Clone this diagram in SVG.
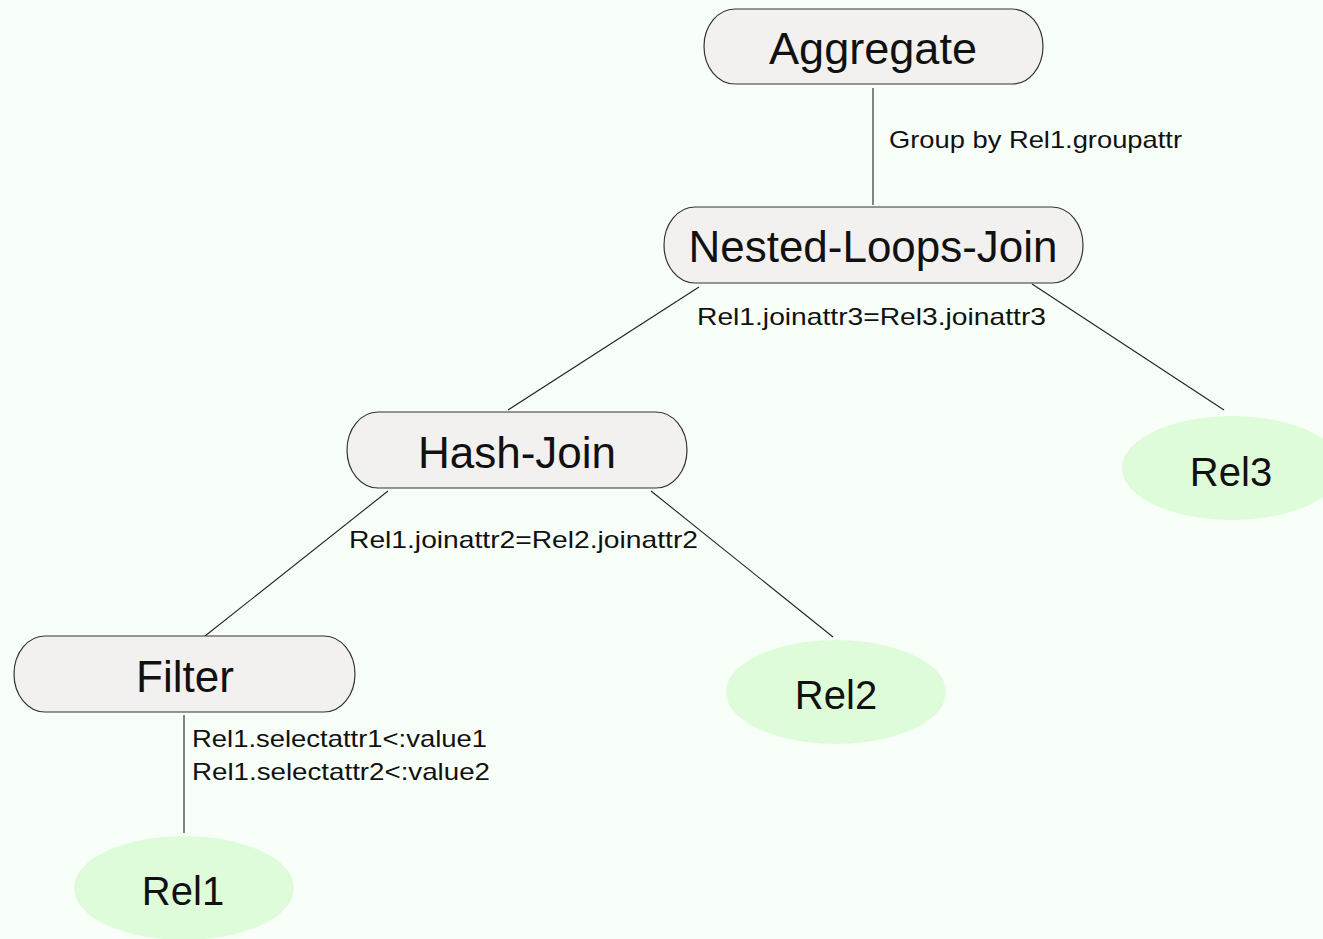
<svg xmlns="http://www.w3.org/2000/svg" width="1323" height="939" viewBox="0 0 1323 939">
  <style>
    .op rect { fill: #f2f1f0; stroke: #333333; stroke-width: 1.2; }
    .rel ellipse { fill: #dffcda; stroke: none; }
    .big { font-family: "Liberation Sans", Arial, sans-serif; font-size: 44px; fill: #111111; text-anchor: middle; }
    .relt { font-family: "Liberation Sans", Arial, sans-serif; font-size: 40px; fill: #111111; text-anchor: middle; }
    .lbl { font-family: "Liberation Sans", Arial, sans-serif; font-size: 24px; fill: #111111; }
    .edges line { stroke: #222222; stroke-width: 1.1; }
  </style>
  <rect x="0" y="0" width="1323" height="939" fill="#f8fff8"/>

  <!-- plan edges -->
  <g id="connectors" class="edges">
    <line x1="873" y1="88" x2="873" y2="205"/>
    <line x1="699" y1="287" x2="508" y2="410"/>
    <line x1="1032" y1="284" x2="1224" y2="410"/>
    <line x1="388" y1="491" x2="205" y2="636"/>
    <line x1="651" y1="491" x2="833" y2="637"/>
    <line x1="184" y1="715" x2="184" y2="833"/>
  </g>

  <!-- edge annotations -->
  <g id="edge-labels">
    <text class="lbl" x="889" y="148" textLength="293" lengthAdjust="spacingAndGlyphs">Group by Rel1.groupattr</text>
    <text class="lbl" x="697" y="325" textLength="349" lengthAdjust="spacingAndGlyphs">Rel1.joinattr3=Rel3.joinattr3</text>
    <text class="lbl" x="349" y="548" textLength="349" lengthAdjust="spacingAndGlyphs">Rel1.joinattr2=Rel2.joinattr2</text>
    <text class="lbl" x="192" y="747" textLength="295" lengthAdjust="spacingAndGlyphs">Rel1.selectattr1&lt;:value1</text>
    <text class="lbl" x="192" y="780" textLength="298" lengthAdjust="spacingAndGlyphs">Rel1.selectattr2&lt;:value2</text>
  </g>

  <!-- operators -->
  <g id="aggregate" class="op">
    <rect x="704" y="9" width="339" height="75" rx="31" ry="37.5"/>
    <text class="big" x="873" y="64" textLength="208" lengthAdjust="spacingAndGlyphs">Aggregate</text>
  </g>
  <g id="nested-loops-join" class="op">
    <rect x="664" y="207" width="419" height="76" rx="31" ry="38"/>
    <text class="big" x="873" y="262" textLength="369" lengthAdjust="spacingAndGlyphs">Nested-Loops-Join</text>
  </g>
  <g id="hash-join" class="op">
    <rect x="347" y="412" width="340" height="76" rx="31" ry="38"/>
    <text class="big" x="517" y="468" textLength="198" lengthAdjust="spacingAndGlyphs">Hash-Join</text>
  </g>
  <g id="filter" class="op">
    <rect x="14" y="636" width="341" height="76" rx="31" ry="38"/>
    <text class="big" x="185" y="692">Filter</text>
  </g>

  <!-- relations -->
  <g id="rel3" class="rel">
    <ellipse cx="1232" cy="468" rx="110" ry="52"/>
    <text class="relt" x="1231" y="486">Rel3</text>
  </g>
  <g id="rel2" class="rel">
    <ellipse cx="836" cy="692" rx="110" ry="52"/>
    <text class="relt" x="836" y="709">Rel2</text>
  </g>
  <g id="rel1" class="rel">
    <ellipse cx="184" cy="888" rx="110" ry="52"/>
    <text class="relt" x="183" y="905">Rel1</text>
  </g>
</svg>
